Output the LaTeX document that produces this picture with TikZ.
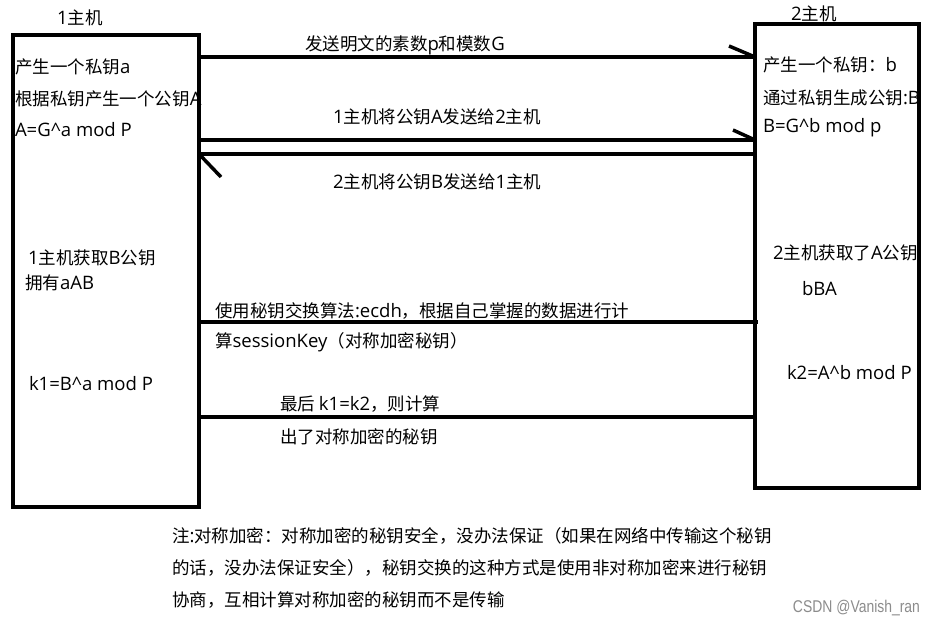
\documentclass[tikz,border=0pt]{standalone}
\usepackage{fontspec}
\setmainfont{Noto Sans CJK SC}
\newfontfamily\lat[Scale=1.06]{Open Sans}
\newfontfamily\wmfont{Liberation Sans}
\newcommand{\crt}{\textasciicircum}
\newcommand{\lt}[1]{{\lat #1}}
\begin{document}
\begin{tikzpicture}[x=1pt,y=-1pt,
  every node/.style={inner sep=0pt, outer sep=0pt, font=\fontsize{17.5}{21}\selectfont, text=black},
  hostbox/.style={draw, line width=3.5pt, anchor=north west},
  link/.style={line width=3.5pt},
  lbl/.style={anchor=west},
]
\useasboundingbox[fill=white] (0,0) rectangle (934,626);
% hosts
\node[hostbox, minimum width=186pt, minimum height=472pt] (h1) at (13,35) {};
\node[hostbox, minimum width=164pt, minimum height=464pt] (h2) at (755,24) {};
\node (t1) at (80,18) {\lt{1}主机};
\node (t2) at (814,14) {\lt{2}主机};
% levels of connectors
\coordinate (y1) at (0,57);
\coordinate (y2) at (0,140);
\coordinate (y3) at (0,154);
\coordinate (y4) at (0,322);
\coordinate (y5) at (0,417);
% connectors
\draw[link] (h1.east |- y1) -- (h2.west |- y1) coordinate (e1);
\draw[link] (e1) -- ++(-26,-11);
\draw[link] (h1.east |- y2) -- (h2.west |- y2) coordinate (e2);
\draw[link] (e2) -- ++(-22,-10);
\draw[link] (h2.west |- y3) -- (h1.east |- y3) coordinate (e3);
\draw[link] (e3) -- ++(22,23);
\draw[link, shorten >=-3pt] (h1.east |- y4) -- (h2.west |- y4);
\draw[link] (h1.east |- y5) -- (h2.west |- y5);
% connector labels
\node[lbl] (m1) at (305,45) {发送明文的素数\lt{p}和模数\lt{G}};
\node[lbl] (m2) at (333,117) {\lt{1}主机将公钥\lt{A}发送给\lt{2}主机};
\node[lbl] (m3) at (333,182) {\lt{2}主机将公钥\lt{B}发送给\lt{1}主机};
\node[lbl] (m4) at (215,311) {使用秘钥交换算法\lt{:ecdh}，根据自己掌握的数据进行计};
\node[lbl] (m5) at (215,342) {算\lt{sessionKey}（对称加密秘钥）};
\node[lbl] (m6) at (280,404) {最后 \lt{k1=k2}，则计算};
\node[lbl] (m7) at (280,437) {出了对称加密的秘钥};
% host 1 texts
\node[lbl] (a1) at (15,67) {产生一个私钥\lt{a}};
\node[lbl] (a2) at (15,99) {根据私钥产生一个公钥\lt{A}};
\node[lbl] (a3) at (15,130) {\lt{A=G\crt{}a mod P}};
\node[lbl] (a4) at (28,258) {\lt{1}主机获取\lt{B}公钥};
\node[lbl] (a5) at (25,283) {拥有\lt{aAB}};
\node[lbl] (a6) at (29,384) {\lt{k1=B\crt{}a mod P}};
% host 2 texts
\node[lbl] (b1) at (763,65) {产生一个私钥：\lt{b}};
\node[lbl] (b2) at (763,98) {通过私钥生成公钥\lt{:B}};
\node[lbl] (b3) at (763,128) {\lt{B=G\crt{}b mod p}};
\node[lbl] (b4) at (773,253) {\lt{2}主机获取了\lt{A}公钥};
\node[lbl] (b5) at (802,289) {\lt{bBA}};
\node[lbl] (b6) at (787,373) {\lt{k2=A\crt{}b mod P}};
% note
\node[lbl] (n1) at (172,536) {注\lt{:}对称加密：对称加密的秘钥安全，没办法保证（如果在网络中传输这个秘钥};
\node[lbl] (n2) at (172,568) {的话，没办法保证安全），秘钥交换的这种方式是使用非对称加密来进行秘钥};
\node[lbl] (n3) at (172,600) {协商，互相计算对称加密的秘钥而不是传输};
\node[anchor=east, text=black!45, font=\wmfont\fontsize{17}{19}\selectfont] (wm) at (920,608) {\scalebox{0.82}[1]{CSDN @Vanish\_ran}};
\end{tikzpicture}
\end{document}
